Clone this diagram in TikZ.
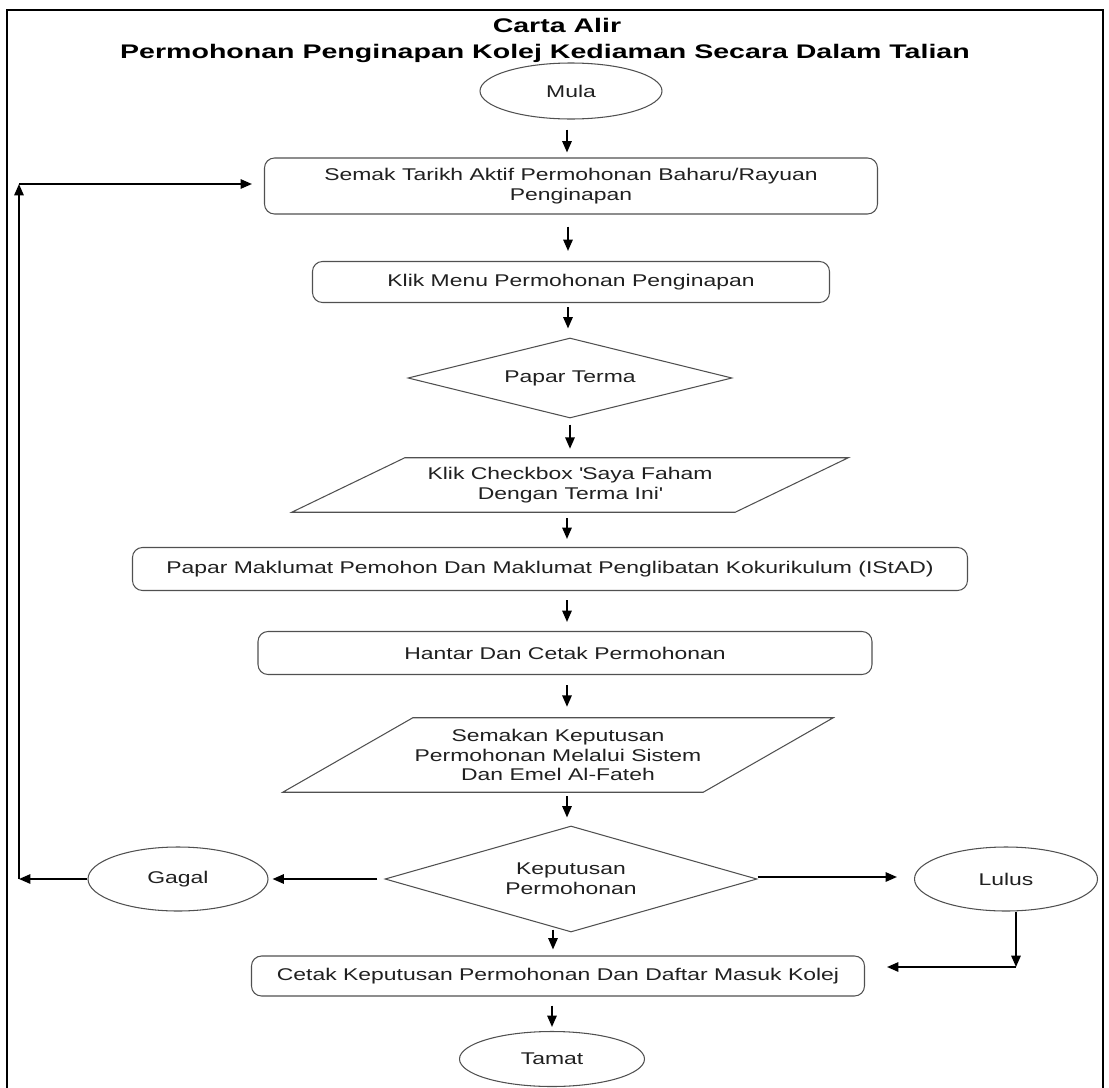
\documentclass[tikz,border=0pt]{standalone}
\usepackage{fontspec}
\setmainfont{Liberation Sans}
\newfontfamily\bodyf[FakeStretch=1.35]{Liberation Sans}
\newfontfamily\titlef[FakeStretch=1.45]{Liberation Sans}
\usetikzlibrary{shapes.geometric,arrows.meta,calc}
\definecolor{shapegray}{HTML}{505050}
\definecolor{txt}{HTML}{202020}
\begin{document}
\begin{tikzpicture}[x=0.03cm,y=-0.03cm,
  sz/.style 2 args={minimum width=#1*0.03cm,minimum height=#2*0.03cm},
  bodytext/.style={text=txt,font=\bodyf\fontsize{14.5}{17}\selectfont,align=center,inner sep=0pt},
  box/.style={bodytext,draw=shapegray,line width=0.9pt,rounded corners=0.3cm},
  ell/.style={bodytext,ellipse,draw=shapegray,line width=0.9pt},
  dia/.style={bodytext,diamond,draw=shapegray,line width=0.9pt},
  para/.style={bodytext},
  pshape/.style={draw=shapegray,line width=0.9pt},
  arr/.style={-{Triangle[length=0.34cm,width=0.28cm]},line width=1.5pt,black},
  ttl/.style={font=\titlef\bfseries\fontsize{16.8}{19}\selectfont,inner sep=0pt}
]
\useasboundingbox (0,0) rectangle (1109,1088);
% frame
\draw[line width=2pt] (7,1095) -- (7,10) -- (1103,10) -- (1103,1095);
% title
\node[ttl] (title1) at (557,25) {Carta Alir};
\node[ttl] (title2) at (545,53) {Permohonan Penginapan Kolej Kediaman Secara Dalam Talian};
% nodes
\node[ell,sz={182}{56}] (mula) at (571,91) {Mula};
\node[box,sz={613}{56}] (semak) at (571,186) {Semak Tarikh Aktif Permohonan Baharu/Rayuan\\Penginapan};
\node[box,sz={517}{41}] (menu) at (571,282) {Klik Menu Permohonan Penginapan};
\node[dia,aspect=4.05,sz={324}{80}] (terma) at (570,378) {Papar Terma};
\node[para,sz={556}{54}] (checkbox) at (570,485) {Klik Checkbox \textquotesingle Saya Faham\\Dengan Terma Ini\textquotesingle};
\draw[pshape] ($(checkbox.north west)+(113,0)$) -- (checkbox.north east) -- ($(checkbox.south east)+(-113,0)$) -- (checkbox.south west) -- cycle;
\node[box,sz={835}{43}] (maklumat) at (550,569) {Papar Maklumat Pemohon Dan Maklumat Penglibatan Kokurikulum (IStAD)};
\node[box,sz={614}{43}] (hantar) at (565,653) {Hantar Dan Cetak Permohonan};
\node[para,sz={550}{74}] (semakan) at (558,755) {Semakan Keputusan\\Permohonan Melalui Sistem\\Dan Emel Al-Fateh};
\draw[pshape] ($(semakan.north west)+(130,0)$) -- (semakan.north east) -- ($(semakan.south east)+(-130,0)$) -- (semakan.south west) -- cycle;
\node[dia,aspect=3.5,sz={372}{106}] (keputusan) at (571,879) {Keputusan\\Permohonan};
\node[ell,sz={180}{64}] (gagal) at (178,879) {Gagal};
\node[ell,sz={183}{64}] (lulus) at (1006,879) {Lulus};
\node[box,sz={613}{40}] (cetak) at (558,976) {Cetak Keputusan Permohonan Dan Daftar Masuk Kolej};
\node[ell,sz={185}{55}] (tamat) at (552,1059) {Tamat};
% helper coordinates
\coordinate (loopBL) at (19,879);
\coordinate (loopTL) at (19,184);
\coordinate (lcorner) at (1016,967);
% connectors
\draw[arr] ($(mula.south)+(-4,10)$) -- ($(semak.north)+(-4,-5)$);
\draw[arr] ($(semak.south)+(-3,12)$) -- ($(menu.north)+(-3,-10)$);
\draw[arr] ($(menu.south)+(-3,4)$) -- ($(terma.north)+(-2,-9)$);
\draw[arr] ($(terma.south)+(0,6)$) -- ($(checkbox.north)+(0,-9)$);
\draw[arr] ($(checkbox.south)+(-3,6)$) -- ($(maklumat.north)+(17,-8)$);
\draw[arr] ($(maklumat.south)+(17,9)$) -- ($(hantar.north)+(2,-9)$);
\draw[arr] ($(hantar.south)+(2,10)$) -- ($(semakan.north)+(9,-11)$);
\draw[arr] ($(semakan.south)+(9,4)$) -- ($(keputusan.north)+(-4,-8)$);
\draw[arr] ($(keputusan.west)+(-7,0)$) -- ($(gagal.east)+(4,0)$);
\draw[arr] (gagal.west) -- (loopBL);
\draw[arr] (loopBL) -- (loopTL);
\draw[arr] (loopTL) -- ($(loopTL -| semak.west)+(-12,0)$);
\draw[arr] ($(keputusan.east)+(0,-2)$) -- ($(lulus.west)+(-17,-2)$);
\draw[arr] ($(lulus.south)+(10,0)$) -- (lcorner);
\draw[arr] (lcorner) -- ($(lcorner -| cetak.east)+(22,0)$);
\draw[arr] ($(keputusan.south)+(-18,-3)$) -- ($(cetak.north)+(-5,-6)$);
\draw[arr] ($(cetak.south)+(-6,9)$) -- ($(tamat.north)+(0,-4)$);
\end{tikzpicture}
\end{document}
